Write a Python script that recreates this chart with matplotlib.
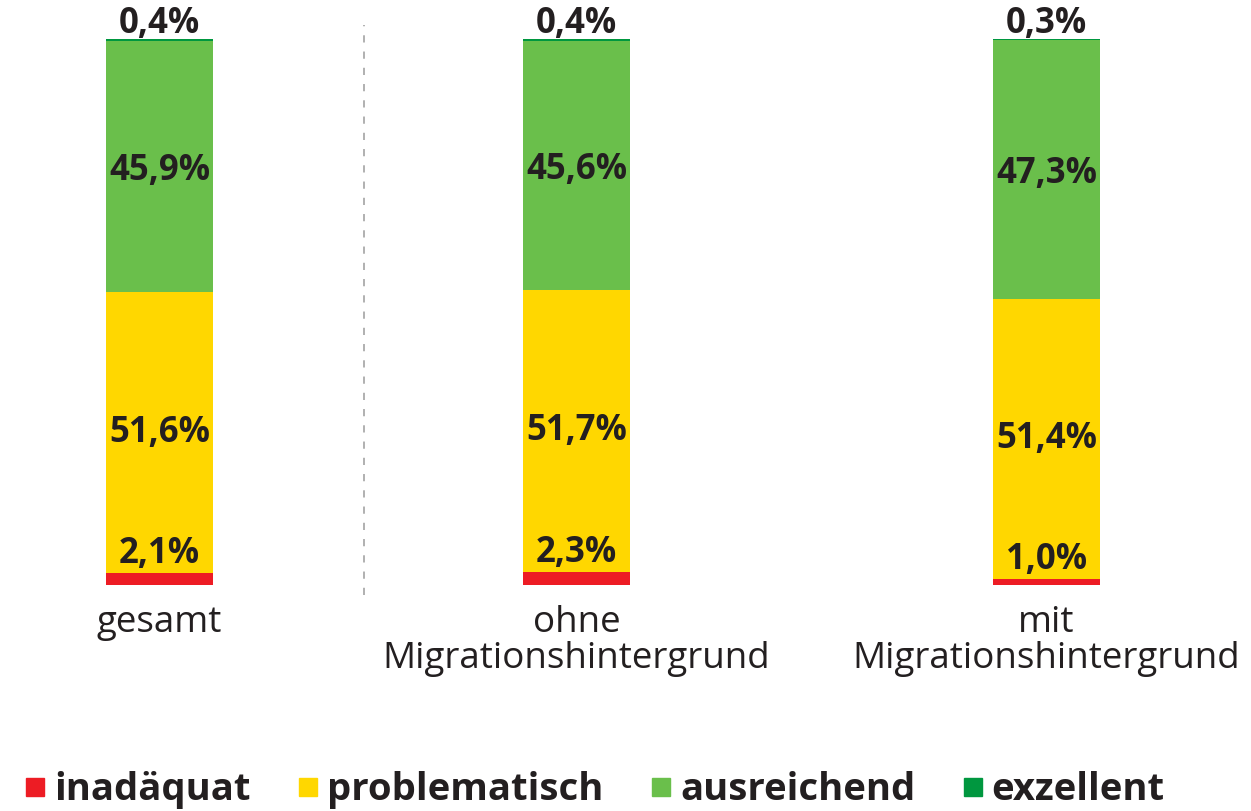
import matplotlib
matplotlib.use("Agg")
import matplotlib.pyplot as plt
from matplotlib.lines import Line2D
import numpy as np

categories = ["gesamt", "ohne\nMigrationshintergrund", "mit\nMigrationshintergrund"]
series = ["inadäquat", "problematisch", "ausreichend", "exzellent"]
inadaequat = [2.1, 2.3, 1.0]
problematisch = [51.6, 51.7, 51.4]
ausreichend = [45.9, 45.6, 47.3]
exzellent = [0.4, 0.4, 0.3]
values = [inadaequat, problematisch, ausreichend, exzellent]
colors = ["#ED1C24", "#FFD700", "#6ABF4B", "#00973F"]
text_color = "#231F20"

plt.rcParams['font.family'] = ['Open Sans', 'DejaVu Sans']

fig = plt.figure(figsize=(12.51, 8.11), dpi=100)
ax = fig.add_axes([0, 0, 1, 1])
ax.set_xlim(-0.3825, 2.6175)
ax.set_ylim(-41.4, 107.1)
ax.axis('off')

xpos = np.array([0.0, 1.0, 2.127])
width = 0.257
bottom = np.zeros(3)
for vals, col in zip(values, colors):
    ax.bar(xpos, vals, width, bottom=bottom, color=col, edgecolor='none')
    bottom = bottom + np.array(vals)

def fmt(v):
    return f"{v:.1f}%".replace('.', ',')

lab_fs = 25
for i, x in enumerate(xpos):
    b0 = inadaequat[i]
    ax.text(x, b0 + 0.2, fmt(inadaequat[i]), ha='center', va='bottom',
            fontsize=lab_fs, fontweight='bold', color=text_color)
    ax.text(x, b0 + problematisch[i] / 2, fmt(problematisch[i]), ha='center', va='center',
            fontsize=lab_fs, fontweight='bold', color=text_color)
    b1 = b0 + problematisch[i]
    ax.text(x, b1 + ausreichend[i] / 2 - 0.8, fmt(ausreichend[i]), ha='center', va='center',
            fontsize=lab_fs, fontweight='bold', color=text_color)
    top = b1 + ausreichend[i] + exzellent[i]
    ax.text(x, top - 0.6, fmt(exzellent[i]), ha='center', va='bottom',
            fontsize=lab_fs, fontweight='bold', color=text_color)
    ax.text(x, -3.6, categories[i], ha='center', va='top', fontsize=26.5,
            color=text_color, linespacing=1.0)

# dashed separator
ax.plot([0.49, 0.49], [-1.8, 102.6], color='#AAAAAA', lw=1.3, ls=(0, (4, 5)))

handles = [Line2D([], [], marker='s', ls='none', markersize=13, color=c) for c in colors]
leg = fig.legend(handles, series, loc='center', bbox_to_anchor=(0.472, 0.026), ncol=4,
                 frameon=False, prop={'size': 27.5, 'weight': 'bold'},
                 handletextpad=0.0, columnspacing=1.0, handlelength=1.0)
for t in leg.get_texts():
    t.set_color(text_color)

fig.savefig("out.png", dpi=100)
